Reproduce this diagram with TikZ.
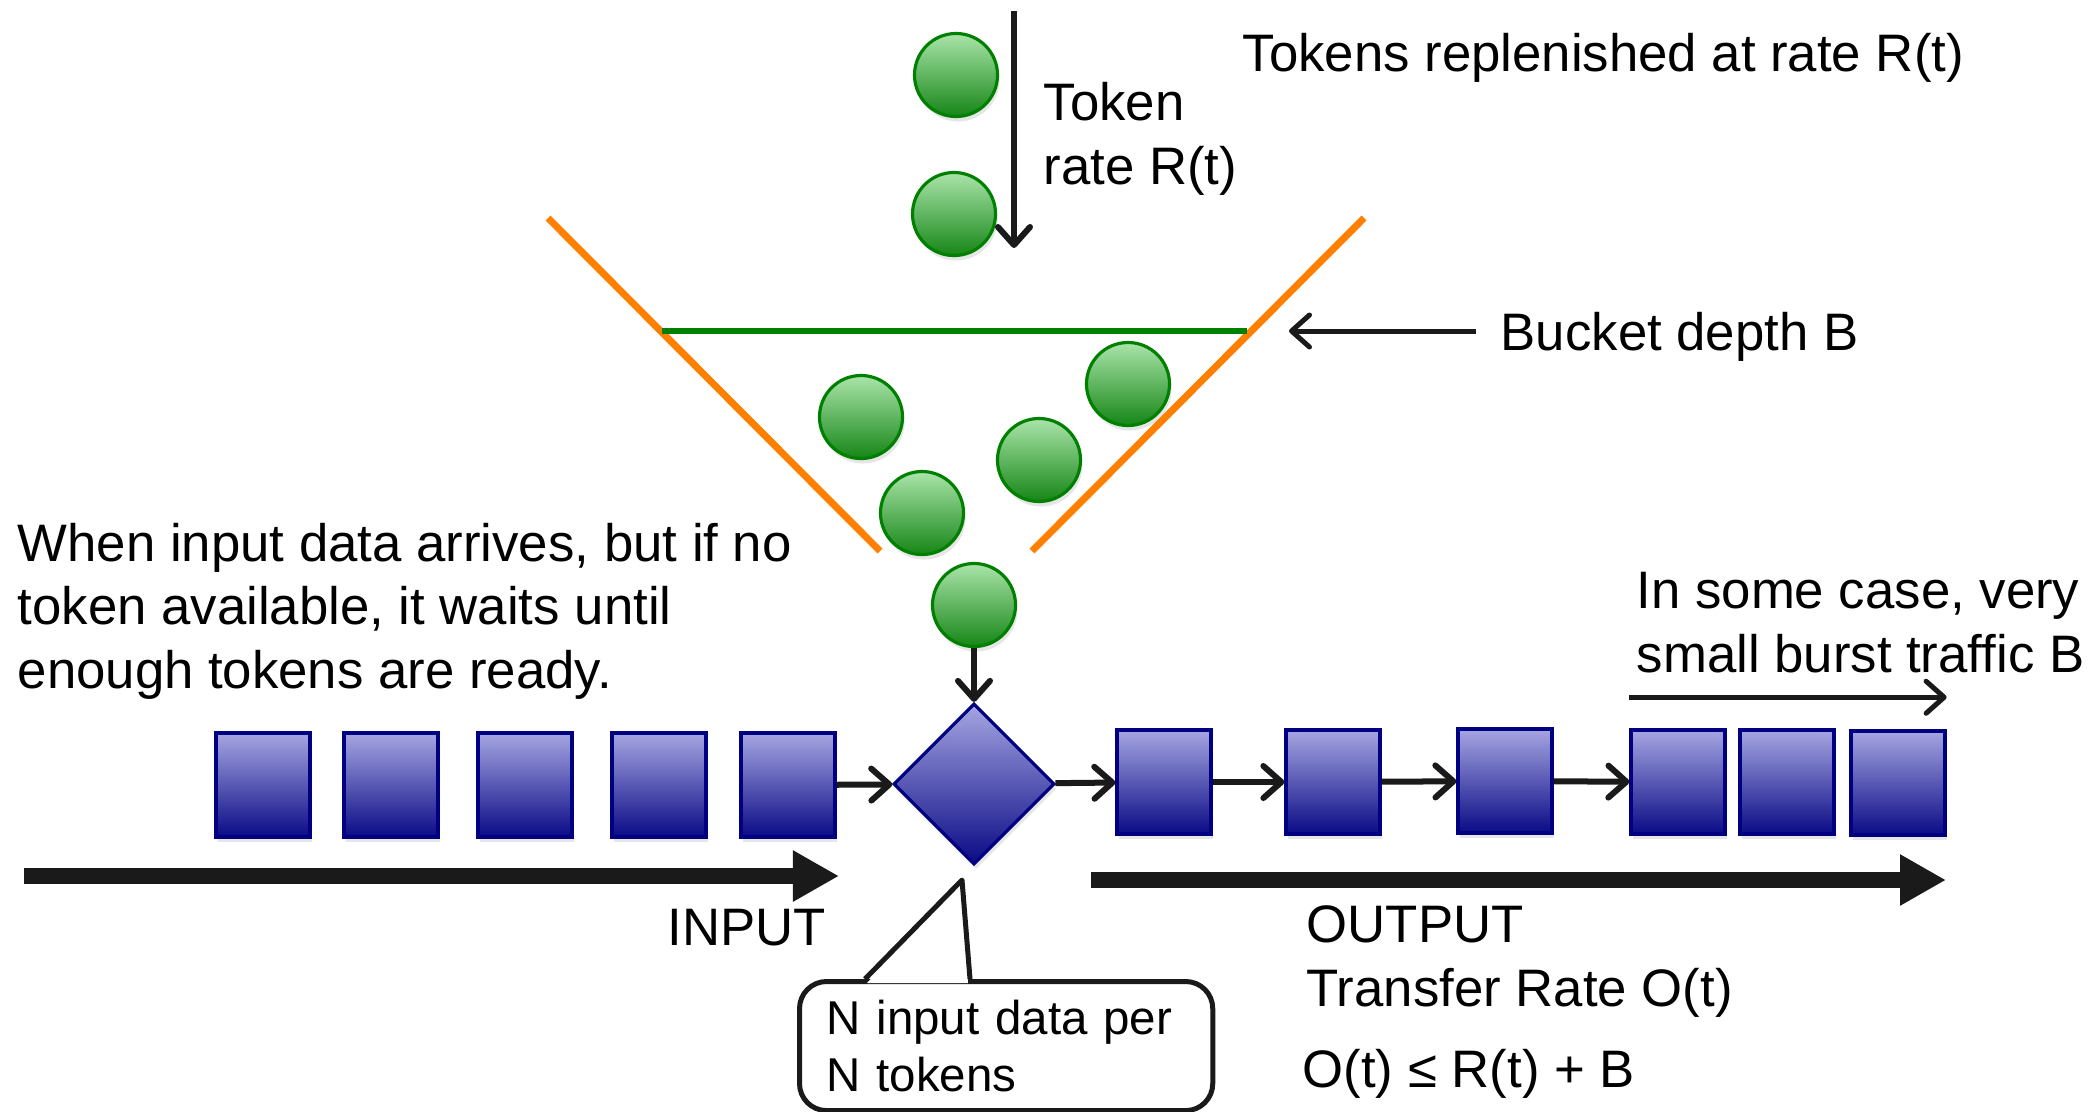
\documentclass[tikz,border=0pt]{standalone}
\usepackage{fontspec}
\setmainfont{Liberation Sans}
\usetikzlibrary{arrows.meta,shapes.geometric,shadows}

\definecolor{tokenlight}{RGB}{170,228,170}
\definecolor{tokendark}{RGB}{22,134,22}
\definecolor{tokenedge}{RGB}{0,128,0}
\definecolor{pktlight}{RGB}{166,166,226}
\definecolor{pktdark}{RGB}{10,10,134}
\definecolor{pktedge}{RGB}{0,0,128}
\definecolor{bucketorange}{RGB}{255,128,0}
\definecolor{depthgreen}{RGB}{0,128,0}
\definecolor{ink}{RGB}{26,26,26}

\begin{document}
\begin{tikzpicture}[x=0.01cm, y=-0.01cm,
        token/.style={circle, draw=tokenedge, line width=0.9pt, top color=tokenlight, bottom color=tokendark,
            minimum size=0.83cm, inner sep=0pt, drop shadow={shadow xshift=0.02cm, shadow yshift=-0.05cm, opacity=0.2}},
        packet/.style={rectangle, draw=pktedge, line width=0.9pt, top color=pktlight, bottom color=pktdark,
            minimum width=0.94cm, minimum height=1.04cm, inner sep=0pt, drop shadow={shadow xshift=0.02cm, shadow yshift=-0.05cm, opacity=0.2}},
        gate/.style={diamond, aspect=1, draw=pktedge, line width=0.9pt, top color=pktlight, bottom color=pktdark,
            minimum size=1.61cm, inner sep=0pt, drop shadow={shadow xshift=0.02cm, shadow yshift=-0.05cm, opacity=0.2}},
        flow/.style={draw=ink, line width=0.06cm, -{Straight Barb[length=0.18cm, width=0.32cm, round]}},
        slim flow/.style={flow, line width=0.05cm},
        wide flow/.style={draw=ink, line width=0.16cm, -{Triangle[length=0.46cm, width=0.48cm]}},
        bucket line/.style={draw=bucketorange, line width=0.07cm},
        depth line/.style={draw=depthgreen, line width=0.055cm},
        txt/.style={anchor=base west, inner sep=0pt, align=left, font=\fontsize{15}{18}\selectfont},
        notebox/.style={draw=ink, line width=0.05cm, rounded corners=0.27cm, anchor=north west, minimum width=4.13cm,
            minimum height=1.29cm, inner xsep=0.27cm, inner ysep=0pt, text width=3.59cm, align=left,
            font=\fontsize{13.5}{16.2}\selectfont},
        ]
        \useasboundingbox (0,0) rectangle (2094,1111);

        \draw[bucket line] (548,218) -- (880,551);
        \draw[bucket line] (1364,218) -- (1032,551);
        \draw[depth line] (662,331) -- (1247,331);

        \node[token] (token1) at (956,75) {};
        \node[token] (token2) at (954,214) {};
        \node[token] (token3) at (861,417) {};
        \node[token] (token4) at (1128,384) {};
        \node[token] (token5) at (1039,460) {};
        \node[token] (token6) at (922,513) {};
        \node[token] (token7) at (974,605) {};

        \node[packet] (in1) at (263,785) {};
        \node[packet] (in2) at (391,785) {};
        \node[packet] (in3) at (525,785) {};
        \node[packet] (in4) at (659,785) {};
        \node[packet] (in5) at (788,785) {};
        \node[gate] (gate) at (974,784) {};
        \node[packet] (out1) at (1164,782) {};
        \node[packet] (out2) at (1333,782) {};
        \node[packet] (out3) at (1505,781) {};
        \node[packet] (out4) at (1678,782) {};
        \node[packet] (out5) at (1787,782) {};
        \node[packet] (out6) at (1898,783) {};

        \node[txt] (refill) at (1242,71) {Tokens replenished at rate R(t)};
        \node[txt] (rate) at (1043,184) {Token\\rate R(t)};
        \node[txt, inner xsep=0.24cm] (depth) at (1476,350) {Bucket depth B};
        \node[txt] (wait) at (17,688) {When input data arrives, but if no\\token available, it waits until\\enough tokens are ready.};
        \node[txt] (burst) at (1636,672) {In some case, very\\small burst traffic B};
        \node[txt] (input) at (667,945) {INPUT};
        \node[txt] (output) at (1306,1006) {OUTPUT\\Transfer Rate O(t)};
        \node[txt] (bound) at (1302,1087) {O(t) ≤ R(t) + B};
        \node[notebox] (note) at (797,979) {N input data per\\N tokens};

        \coordinate (droptop) at (1014,11);
        \coordinate (dropend) at (1014,248);
        \coordinate (depthtip) at (1289,331);
        \coordinate (instart) at (24,876);
        \coordinate (inend) at (839,876);
        \coordinate (outstart) at (1091,880);
        \coordinate (outend) at (1946,880);
        \coordinate (notetip) at (962,880);

        \draw[flow] (droptop) -- (dropend);
        \draw[slim flow] (depth.west |- depthtip) -- (depthtip);
        \draw[flow] (token7) -- (gate);
        \draw[flow] (in5) -- (gate);
        \draw[flow] (gate) -- (out1);
        \draw[flow] (out1) -- (out2);
        \draw[flow] (out2) -- (out3);
        \draw[flow] (out3) -- (out4);
        \draw[slim flow] ([yshift=-0.24cm]out4.west |- burst.south) -- ([yshift=-0.24cm]out6.east |- burst.south);
        \draw[wide flow] (instart) -- (inend);
        \draw[wide flow] (outstart) -- (outend);

        \fill[white] (867,983) -- (notetip) -- (968,983) -- cycle;
        \draw[draw=ink, line width=0.05cm, line join=round] (865,979) -- (notetip) -- (970,979);

    \end{tikzpicture}
\end{document}
